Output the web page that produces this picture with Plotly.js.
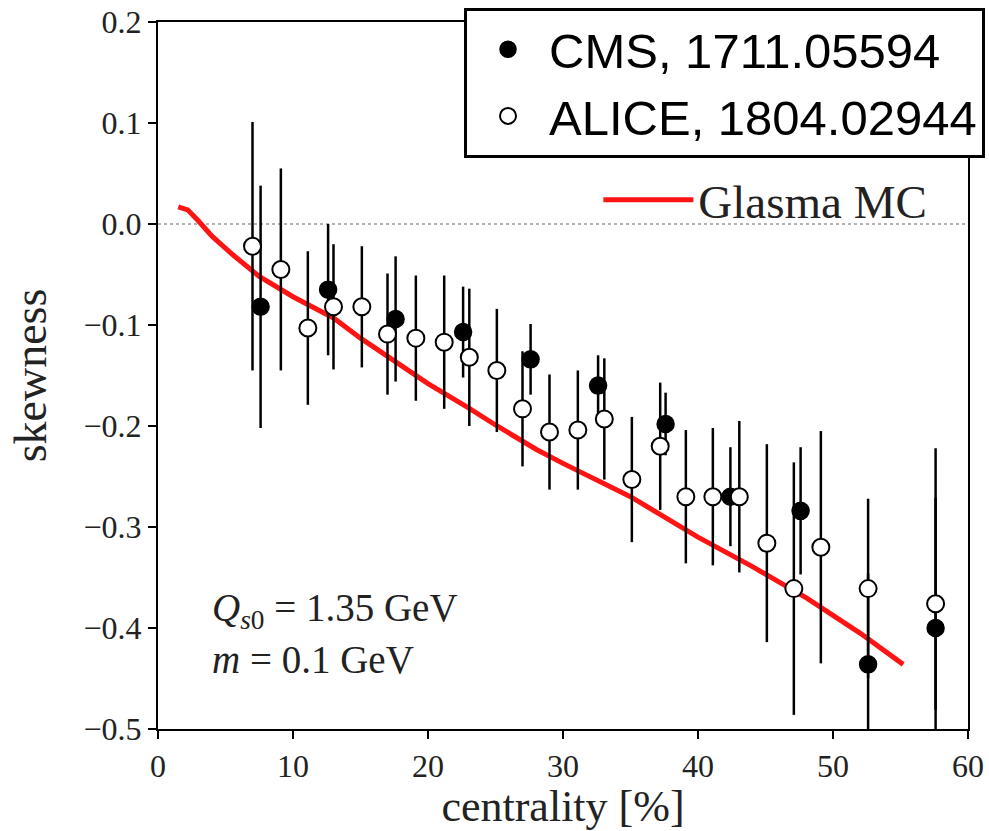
<!DOCTYPE html>
<html>
<head>
<meta charset="utf-8">
<script src="https://cdn.plot.ly/plotly-3.0.1.min.js"></script>
<style>html,body{margin:0;padding:0;background:#fff;}</style>
</head>
<body>
<div id="chart" style="width:989px;height:831px;"></div>
<script>
// Glasma MC curve
var glasmaX = [1.5, 2.2, 3, 4, 5.5, 7.5, 10, 13, 15, 17.7, 20, 23, 25, 28, 30, 35, 40, 44, 48, 52, 55.2];
var glasmaY = [0.017, 0.014, 0.003, -0.012, -0.030, -0.052, -0.072, -0.093, -0.113, -0.138, -0.158, -0.182, -0.199, -0.223, -0.237, -0.270, -0.310, -0.339, -0.370, -0.405, -0.436];

// CMS, 1711.05594
var cmsX = [7.6, 12.6, 17.6, 22.6, 27.6, 32.6, 37.6, 42.4, 47.6, 52.6, 57.6];
var cmsY = [-0.082, -0.065, -0.094, -0.107, -0.134, -0.160, -0.198, -0.270, -0.284, -0.436, -0.400];
var cmsErr = [0.12, 0.065, 0.062, 0.045, 0.035, 0.03, 0.031, 0.049, 0.063, 0.09, 0.178];

// ALICE, 1804.02944
var aliceX = [7.0, 9.1, 11.1, 13.0, 15.1, 17.0, 19.1, 21.2, 23.06, 25.1, 27.0, 29.0, 31.1, 33.06, 35.1, 37.2, 39.1, 41.1, 43.06, 45.1, 47.1, 49.1, 52.6, 57.6];
var aliceY = [-0.022, -0.045, -0.103, -0.082, -0.082, -0.109, -0.113, -0.117, -0.132, -0.145, -0.183, -0.206, -0.204, -0.193, -0.253, -0.220, -0.270, -0.270, -0.270, -0.316, -0.361, -0.320, -0.361, -0.376];
var aliceErr = [0.123, 0.1, 0.076, 0.062, 0.06, 0.06, 0.062, 0.066, 0.068, 0.061, 0.057, 0.057, 0.059, 0.06, 0.062, 0.063, 0.066, 0.068, 0.075, 0.098, 0.125, 0.115, 0.089, 0.105];

var xTicks = [0, 10, 20, 30, 40, 50, 60];
var yTicks = [0.2, 0.1, 0.0, -0.1, -0.2, -0.3, -0.4, -0.5];
var yTickText = ['0.2', '0.1', '0.0', '\u22120.1', '\u22120.2', '\u22120.3', '\u22120.4', '\u22120.5'];

var serif = 'Liberation Serif, Times New Roman, serif';

var traces = [
  {
    x: glasmaX, y: glasmaY, mode: 'lines', name: 'Glasma MC',
    line: {color: '#ff1414', width: 5},
    legend: 'legend2'
  },
  {
    x: cmsX, y: cmsY, mode: 'markers', name: 'CMS, 1711.05594',
    marker: {symbol: 'circle', size: 17, color: 'black', line: {color: 'black', width: 1.5}},
    error_y: {type: 'data', array: cmsErr, visible: true, color: 'black', thickness: 2.5, width: 0},
    legend: 'legend'
  },
  {
    x: aliceX, y: aliceY, mode: 'markers', name: 'ALICE, 1804.02944',
    marker: {symbol: 'circle', size: 17, color: 'white', line: {color: 'black', width: 2}},
    error_y: {type: 'data', array: aliceErr, visible: true, color: 'black', thickness: 2.5, width: 0},
    legend: 'legend'
  }
];

var layout = {
  width: 989, height: 831,
  margin: {l: 158, r: 21, t: 22, b: 102, autoexpand: false},
  paper_bgcolor: 'white', plot_bgcolor: 'white',
  showlegend: true,
  xaxis: {
    range: [0, 60], tickvals: xTicks, ticktext: xTicks.map(String),
    showgrid: false, zeroline: false, showline: true, mirror: true,
    linecolor: 'black', linewidth: 2, ticks: 'outside', ticklen: 8, tickwidth: 1.5, tickcolor: 'black',
    tickfont: {family: serif, size: 32, color: '#222'},
    title: {text: 'centrality [%]', font: {family: serif, size: 44, color: '#222'}, standoff: 6}
  },
  yaxis: {
    range: [-0.5, 0.2], tickvals: yTicks, ticktext: yTickText,
    showgrid: false, zeroline: false, showline: true, mirror: true,
    linecolor: 'black', linewidth: 2, ticks: 'outside', ticklen: 8, tickwidth: 1.5, tickcolor: 'black',
    tickfont: {family: serif, size: 32, color: '#222'},
    title: {text: 'skewness', font: {family: serif, size: 46, color: '#222'}, standoff: 22}
  },
  legend: {
    x: 1.021, xanchor: 'right', y: 1.02, yanchor: 'top',
    bgcolor: 'white', bordercolor: 'black', borderwidth: 3,
    font: {family: 'Liberation Sans, Arial, sans-serif', size: 49, color: 'black'},
    itemsizing: 'trace', itemwidth: 72, tracegroupgap: 0
  },
  legend2: {
    x: 0.956, xanchor: 'right', y: 0.748, yanchor: 'middle',
    bgcolor: 'rgba(0,0,0,0)', borderwidth: 0,
    font: {family: serif, size: 47, color: '#222'},
    itemwidth: 90
  },
  shapes: [
    {type: 'line', xref: 'paper', yref: 'y', x0: 0, x1: 1, y0: 0, y1: 0,
     line: {color: '#666', width: 1, dash: 'dot'}, layer: 'below'}
  ],
  annotations: [
    {xref: 'paper', yref: 'paper', x: 0.064, y: 0.168, xanchor: 'left', yanchor: 'middle', showarrow: false,
     text: '<i>Q</i><sub><i>s</i>0</sub> = 1.35 GeV', font: {family: serif, size: 39, color: '#222'}},
    {xref: 'paper', yref: 'paper', x: 0.064, y: 0.098, xanchor: 'left', yanchor: 'middle', showarrow: false,
     text: '<i>m</i> = 0.1 GeV', font: {family: serif, size: 39, color: '#222'}}
  ]
};

Plotly.newPlot('chart', traces, layout, {displayModeBar: false, staticPlot: true});
</script>
</body>
</html>
